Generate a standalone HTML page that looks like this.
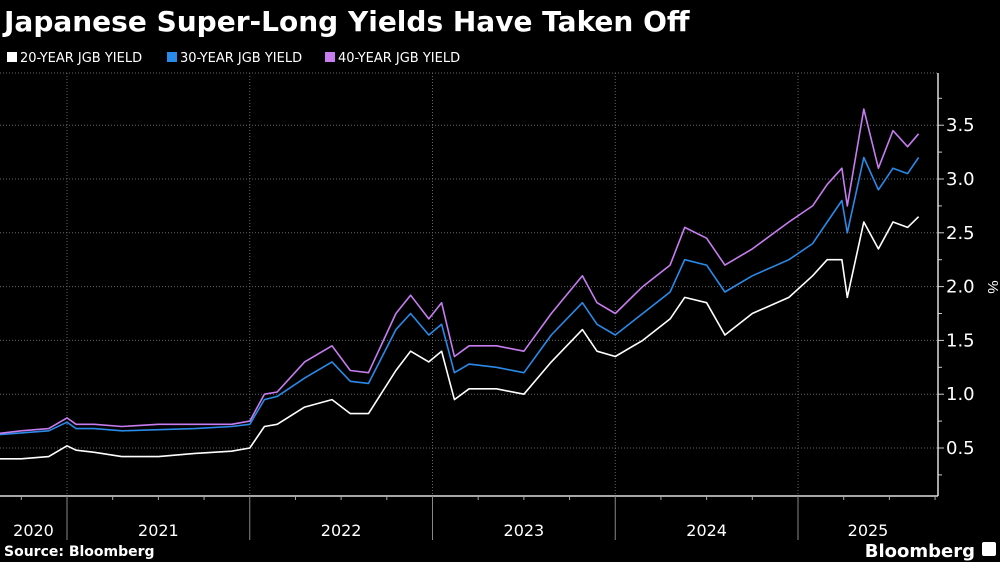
<!DOCTYPE html>
<html><head><meta charset="utf-8"><style>
html,body{margin:0;padding:0;background:#000;width:1000px;height:562px;overflow:hidden;font-family:"Liberation Sans","DejaVu Sans",sans-serif;color:#fff}
</style></head><body>
<svg width="1000" height="562" viewBox="0 0 1000 562" xmlns="http://www.w3.org/2000/svg">
<text x="4" y="31" font-size="28" font-weight="bold" fill="#fff" font-family="DejaVu Sans, sans-serif">Japanese Super-Long Yields Have Taken Off</text>
<g font-size="13" fill="#fff" font-family="DejaVu Sans, sans-serif">
<g><rect x="7" y="52" width="10" height="10" fill="#fff"/><text x="20" y="62">20-YEAR JGB YIELD</text></g>
<g><rect x="167" y="52" width="10" height="10" fill="#2a8ae8"/><text x="180" y="62">30-YEAR JGB YIELD</text></g>
<g><rect x="325" y="52" width="10" height="10" fill="#c77cf0"/><text x="338" y="62">40-YEAR JGB YIELD</text></g>
</g>
<g id="grid"></g>
<g id="axes"></g>
<g id="series"></g>
<text x="4" y="556" font-size="14" font-weight="bold" fill="#fff" font-family="DejaVu Sans, sans-serif">Source: Bloomberg</text>
<text x="975" y="557" text-anchor="end" font-size="18" font-weight="bold" fill="#fff" font-family="DejaVu Sans, sans-serif">Bloomberg</text>
<rect x="982" y="542" width="14" height="14" rx="2" fill="#fff"/>
</svg>
<script>
const dates=[2020.6,2020.75,2020.9,2021.0,2021.05,2021.15,2021.3,2021.5,2021.7,2021.9,2022.0,2022.08,2022.15,2022.3,2022.45,2022.55,2022.65,2022.8,2022.88,2022.98,2023.05,2023.12,2023.2,2023.35,2023.5,2023.65,2023.82,2023.9,2024.0,2024.15,2024.3,2024.38,2024.5,2024.6,2024.75,2024.95,2025.08,2025.16,2025.24,2025.27,2025.36,2025.44,2025.52,2025.6,2025.66];
const y20=[0.40,0.40,0.42,0.52,0.48,0.46,0.42,0.42,0.45,0.47,0.50,0.70,0.72,0.88,0.95,0.82,0.82,1.22,1.40,1.30,1.40,0.95,1.05,1.05,1.00,1.30,1.60,1.40,1.35,1.50,1.70,1.90,1.85,1.55,1.75,1.90,2.10,2.25,2.25,1.90,2.60,2.35,2.60,2.55,2.65];
const y30=[0.62,0.64,0.66,0.74,0.68,0.68,0.66,0.67,0.68,0.70,0.72,0.95,0.98,1.15,1.30,1.12,1.10,1.60,1.75,1.55,1.65,1.20,1.28,1.25,1.20,1.55,1.85,1.65,1.55,1.75,1.95,2.25,2.20,1.95,2.10,2.25,2.40,2.60,2.80,2.50,3.20,2.90,3.10,3.05,3.20];
const y40=[0.63,0.66,0.68,0.78,0.72,0.72,0.70,0.72,0.72,0.72,0.75,1.00,1.02,1.30,1.45,1.22,1.20,1.75,1.92,1.70,1.85,1.35,1.45,1.45,1.40,1.75,2.10,1.85,1.75,2.00,2.20,2.55,2.45,2.20,2.35,2.60,2.75,2.95,3.10,2.75,3.65,3.10,3.45,3.30,3.42];
const yTicks=[0.5,1.0,1.5,2.0,2.5,3.0,3.5];
const years=[2020,2021,2022,2023,2024,2025];
const NS='http://www.w3.org/2000/svg';
const xS=t=>67+(t-2021)*182.75;
const yS=v=>448-(v-0.5)*107.6;
function mk(tag,attrs,parent){const e=document.createElementNS(NS,tag);for(const k in attrs)e.setAttribute(k,attrs[k]);parent.appendChild(e);return e;}
const grid=document.getElementById('grid'),axes=document.getElementById('axes'),ser=document.getElementById('series');
const gl=mk('line',{x1:0,x2:938,y1:73,y2:73,stroke:'#666','stroke-dasharray':'1,2'},grid);


yTicks.forEach(v=>{
 const y=yS(v);
 const l=mk('line',{x1:0,x2:938,y1:y,y2:y,stroke:'#666','stroke-dasharray':'1,2'},grid);
 
 
 const tk=mk('line',{x1:938,x2:944,y1:y,y2:y,stroke:'#ccc'},axes);
 
 
 const t=mk('text',{x:946,y:y+6,'font-size':18,fill:'#fff','font-family':'DejaVu Sans, sans-serif'},axes);
 t.textContent=v.toFixed(1);
 
 
});
for(let v=0.25;v<3.9;v+=0.5){const y=yS(v);const m=mk('line',{x1:938,x2:942,y1:y,y2:y,stroke:'#ccc'},axes);}
const ya=mk('line',{x1:938,x2:938,y1:73,y2:496,stroke:'#ddd','stroke-width':1.5},axes);


const yt=mk('text',{x:988,y:287,'font-size':15,fill:'#fff','text-anchor':'middle',transform:'rotate(90 988 287)'},axes);
yt.textContent='%';


const xa=mk('line',{x1:0,x2:938,y1:496,y2:496,stroke:'#ddd','stroke-width':1.5},axes);


years.forEach(yr=>{
 const x0=Math.max(0,xS(yr)),x1=Math.min(938,xS(yr+1));
 if(yr>2020){
  const g=mk('line',{x1:xS(yr),x2:xS(yr),y1:73,y2:496,stroke:'#666','stroke-dasharray':'1,2'},grid);
  
  
  const s=mk('line',{x1:xS(yr),x2:xS(yr),y1:496,y2:540,stroke:'#888'},axes);
  
  
 }
 for(let q=0.25;q<1;q+=0.25){const x=xS(yr+q);if(x>0&&x<938){const k=mk('line',{x1:x,x2:x,y1:496,y2:500,stroke:'#aaa'},axes);}}
 const t=mk('text',{x:(x0+x1)/2,y:536,'font-size':16,fill:'#fff','text-anchor':'middle','font-family':'DejaVu Sans, sans-serif'},axes);
 t.textContent=yr;
 
 
});
[[y20,'#ffffff','line-20y'],[y30,'#2a8ae8','line-30y'],[y40,'#c77cf0','line-40y']].forEach(([arr,c,n])=>{
 const d=arr.map((v,i)=>(i?'L':'M')+xS(dates[i]).toFixed(1)+','+yS(v).toFixed(1)).join('');
 const p=mk('path',{d:d,fill:'none',stroke:c,'stroke-width':1.6,'stroke-linejoin':'round'},ser);
 
 
});
</script>
</body></html>
